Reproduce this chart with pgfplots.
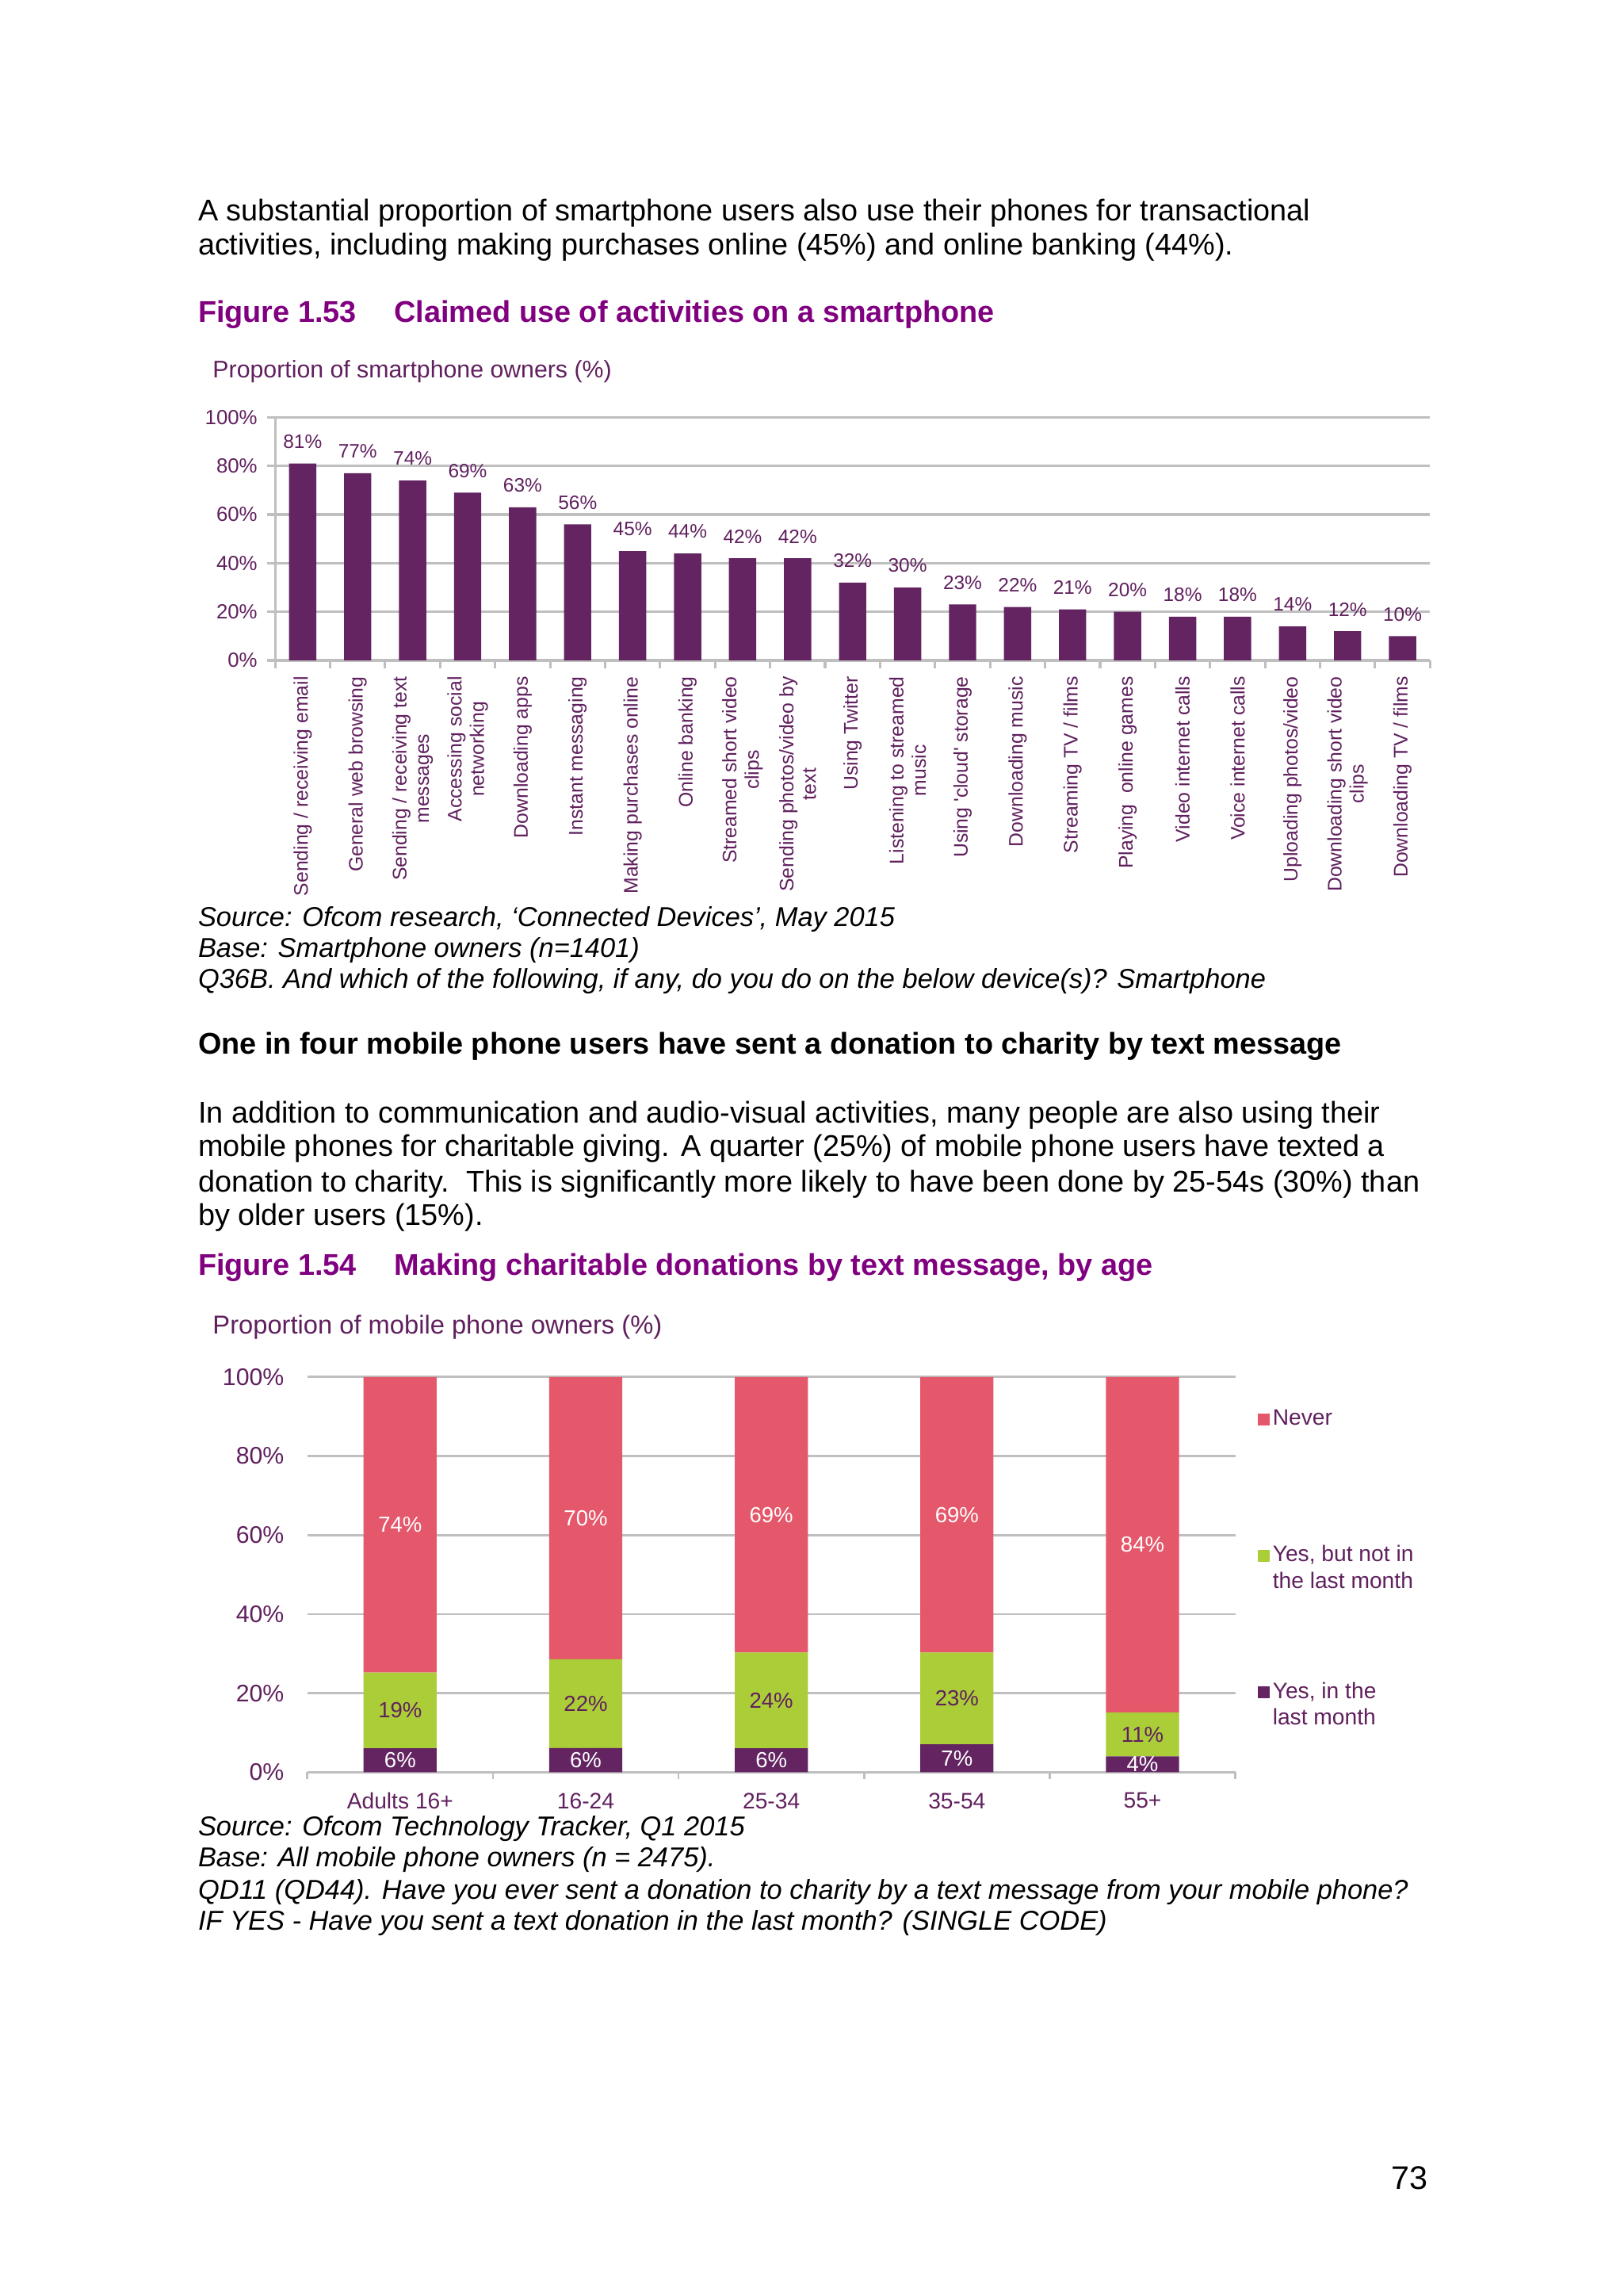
\documentclass[border=0pt]{standalone}
\usepackage{pgfplots}
\pgfplotsset{compat=1.18}
\usepackage{fontspec}
\setmainfont{Liberation Sans}
\definecolor{figpurple}{RGB}{128,0,128}
\definecolor{txtpurple}{RGB}{96,32,94}
\definecolor{barpurple}{RGB}{99,36,97}
\definecolor{gridgray}{RGB}{191,191,191}
\definecolor{nevercol}{RGB}{229,87,106}
\definecolor{yescol}{RGB}{170,205,56}
\newcommand{\body}{\fontsize{11}{12.4}\selectfont}
\newcommand{\note}{\fontsize{10}{12}\selectfont\itshape}

\begin{document}
\begin{tikzpicture}
% page and text, in pixels of a 1109 x 1568 page
\begin{scope}[x=0.5368pt,y=-0.5368pt,every node/.style={anchor=mid west,inner sep=0pt}]
\fill[white] (0,0) rectangle (1109,1568);
\node[font=\body] at (135,146) {A substantial proportion of smartphone users also use their phones for transactional};
\node[font=\body] at (135,169) {activities, including making purchases online (45\%) and online banking (44\%).};
\node[font=\body\bfseries,text=figpurple] at (135,215) {Figure 1.53};
\node[font=\body\bfseries,text=figpurple] at (269,215) {Claimed use of activities on a smartphone};
\node[font=\fontsize{8.8}{10}\selectfont,text=txtpurple] at (145,253) {Proportion of smartphone owners (\%)};
\node[font=\note] at (135,628) {Source: Ofcom research, ‘Connected Devices’, May 2015};
\node[font=\note] at (135,649) {Base: Smartphone owners (n=1401)};
\node[font=\note] at (135,670) {Q36B. And which of the following, if any, do you do on the below device(s)? Smartphone};
\node[font=\body\bfseries] at (135,715) {One in four mobile phone users have sent a donation to charity by text message};
\node[font=\body] at (135,762) {In addition to communication and audio-visual activities, many people are also using their};
\node[font=\body] at (135,785) {mobile phones for charitable giving. A quarter (25\%) of mobile phone users have texted a};
\node[font=\body] at (135,809) {donation to charity.\ \ This is significantly more likely to have been done by 25-54s (30\%) than};
\node[font=\body] at (135,832) {by older users (15\%).};
\node[font=\body\bfseries,text=figpurple] at (135,866) {Figure 1.54};
\node[font=\body\bfseries,text=figpurple] at (269,866) {Making charitable donations by text message, by age};
\node[font=\fontsize{9.5}{11}\selectfont,text=txtpurple] at (145,906) {Proportion of mobile phone owners (\%)};
\node[font=\note] at (135,1249) {Source: Ofcom Technology Tracker, Q1 2015};
\node[font=\note] at (135,1270) {Base: All mobile phone owners (n = 2475).};
\node[font=\note] at (135,1292) {QD11 (QD44). Have you ever sent a donation to charity by a text message from your mobile phone?};
\node[font=\note] at (135,1313) {IF YES - Have you sent a text donation in the last month? (SINGLE CODE)};
\node[font=\fontsize{12}{14}\selectfont,anchor=mid] at (963,1490) {73};
\end{scope}

% Figure 1.53
\begin{axis}[
    at={(100.9pt,-242.1pt)}, anchor=south west,
    scale only axis, width=423.5pt, height=89.1pt,
    xmin=-0.5, xmax=20.5, ymin=0, ymax=100,
    ybar, bar width=10pt,
    axis x line*=bottom, axis y line*=left,
    axis line style={gridgray, line width=0.9pt},
    ymajorgrids, grid style={gridgray, line width=0.9pt},
    tick align=outside, major tick length=0pt, minor tick length=3pt,
    tick style={gridgray, line width=0.9pt},
    ytick={0,20,...,100}, minor ytick={0,20,...,100},
    yticklabels={0\%,20\%,40\%,60\%,80\%,100\%},
    yticklabel style={font=\fontsize{7.5}{8}\selectfont, text=txtpurple, xshift=-3pt},
    xtick={0,...,20}, minor xtick={-0.5,0.5,...,20.5},
    xticklabels={
        {Sending / receiving email},
        {General web browsing},
        {Sending / receiving text\\messages},
        {Accessing social\\networking},
        {Downloading apps},
        {Instant messaging},
        {Making purchases online},
        {Online banking},
        {Streamed short video\\clips},
        {Sending photos/video by\\text},
        {Using Twitter},
        {Listening to streamed\\music},
        {Using \textquotesingle cloud\textquotesingle\ storage},
        {Downloading music},
        {Streaming TV / films},
        {Playing\ \ online games},
        {Video internet calls},
        {Voice internet calls},
        {Uploading photos/video},
        {Downloading short video\\clips},
        {Downloading TV / films}},
    xticklabel style={yshift=-2.4pt, rotate=90, anchor=east, align=center,
        font=\fontsize{7.2}{8.2}\selectfont, text=txtpurple},
    /pgf/number format/assume math mode=true,
    nodes near coords={\pgfmathprintnumber{\pgfplotspointmeta}\%},
    every node near coord/.append style={font=\fontsize{7.1}{8}\selectfont, text=txtpurple, yshift=2pt},
]
\addplot[fill=barpurple, draw=none] coordinates {
    (0,81) (1,77) (2,74) (3,69) (4,63) (5,56) (6,45) (7,44) (8,42) (9,42) (10,32)
    (11,30) (12,23) (13,22) (14,21) (15,20) (16,18) (17,18) (18,14) (19,12) (20,10)
};
\end{axis}

% Figure 1.54: bar heights scaled so each stack fills 100%, labels show the printed values
\begin{axis}[
    at={(112.7pt,-649.7pt)}, anchor=south west,
    scale only axis, width=340.3pt, height=144.9pt,
    xmin=-0.5, xmax=4.5, ymin=0, ymax=100,
    ybar stacked, bar width=26.8pt,
    axis x line*=bottom, axis y line*=left,
    x axis line style={gridgray, line width=0.9pt},
    y axis line style={draw=none},
    ymajorgrids, grid style={gridgray, line width=0.8pt},
    tick align=outside, major tick length=0pt, minor tick length=2.4pt,
    tick style={gridgray, line width=0.8pt},
    ytick={0,20,...,100},
    yticklabels={0\%,20\%,40\%,60\%,80\%,100\%},
    yticklabel style={font=\fontsize{8.8}{9}\selectfont, text=txtpurple, xshift=-5pt},
    xtick={0,...,4}, minor xtick={-0.5,0.5,...,4.5},
    xticklabels={Adults 16+,16-24,25-34,35-54,55+},
    xticklabel style={font=\fontsize{8.2}{9}\selectfont, text=txtpurple, yshift=-4pt},
    /pgf/number format/assume math mode=true,
    point meta=explicit,
    nodes near coords={\pgfmathprintnumber{\pgfplotspointmeta}\%},
    every node near coord/.append style={anchor=center, font=\fontsize{8}{9}\selectfont},
    reverse legend, legend cell align=left,
    legend style={draw=none, fill=none, at={(1.015,0.94)}, anchor=north west,
        font=\fontsize{8.2}{9.7}\selectfont, text=txtpurple, row sep=31pt,
        nodes={align=left, inner sep=1pt}},
]
\addplot[fill=barpurple, draw=none,
    every node near coord/.append style={text=white},
    legend image code/.code={\fill[barpurple] (0pt,2.6pt) rectangle (4.4pt,7pt);}]
    coordinates {(0,6.06) [6] (1,6.12) [6] (2,6.06) [6] (3,7.07) [7] (4,4.04) [4]};
\addplot[fill=yescol, draw=none,
    every node near coord/.append style={text=txtpurple},
    legend image code/.code={\fill[yescol] (0pt,2.6pt) rectangle (4.4pt,7pt);}]
    coordinates {(0,19.19) [19] (1,22.45) [22] (2,24.24) [24] (3,23.23) [23] (4,11.11) [11]};
\addplot[fill=nevercol, draw=none,
    every node near coord/.append style={text=white},
    legend image code/.code={\fill[nevercol] (0pt,2.6pt) rectangle (4.4pt,7pt);}]
    coordinates {(0,74.75) [74] (1,71.43) [70] (2,69.70) [69] (3,69.70) [69] (4,84.85) [84]};
\addlegendentry{Yes, in the\\last month}
\addlegendentry{Yes, but not in\\the last month}
\addlegendentry{Never\\\strut}
\end{axis}
\end{tikzpicture}
\end{document}
